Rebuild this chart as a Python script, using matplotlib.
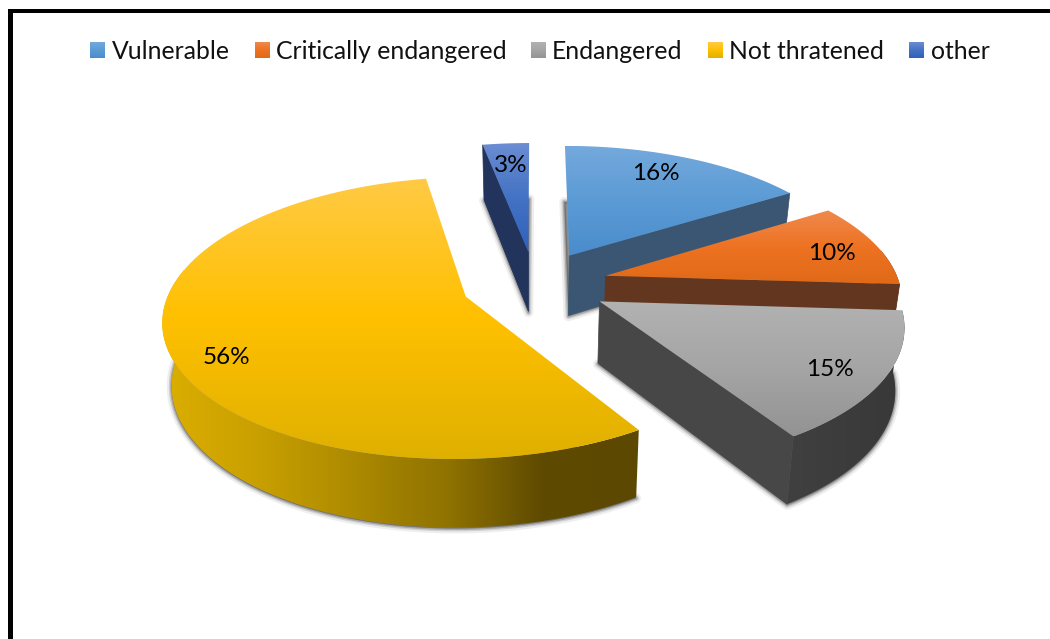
"""Exploded 3D-style pie of threat status, drawn as projected polygons."""
import numpy as np
import matplotlib; matplotlib.use("Agg"); import matplotlib.pyplot as plt
from matplotlib.colors import LinearSegmentedColormap as LSC
from matplotlib.patches import Polygon, Rectangle

plt.rcParams["font.family"] = ["Lato", "DejaVu Sans"]

categories = ["Vulnerable", "Critically endangered", "Endangered", "Not thratened", "other"]
values = [16, 10, 15, 56, 3]

TOP = {"Vulnerable": ["#74a9dc", "#5b9bd5", "#4a8ccc"],
       "Critically endangered": ["#f08a4e", "#ed7222", "#e06a18"],
       "Endangered": ["#b2b2b2", "#a5a5a5", "#939393"],
       "Not thratened": ["#ffca45", "#ffc000", "#dfb000"],
       "other": ["#6b8dd2", "#4472c4", "#2f62bc"]}
WALL = {"Vulnerable": ["#3a5672", "#3a5672"],
        "Critically endangered": ["#63361f", "#63361f"],
        "Endangered": ["#404040", "#383838"],
        "Not thratened": ["#dcae00", "#c9a000", "#ad8a00", "#8f7200", "#5e4a00", "#5c4800"],
        "other": ["#22345c", "#22345c"]}
SIDE = {"Vulnerable": "#3a5672", "Critically endangered": "#63361f", "Endangered": "#474747",
        "Not thratened": "#5c4800", "other": "#22345c"}
DRAW_ORDER = ["other", "Vulnerable", "Critically endangered", "Endangered", "Not thratened"]

LEGEND_SWATCH_X = [90, 255, 531, 708, 909]
LEGEND_TEXT_X = [112, 276, 552, 729, 931]
LABEL_XY = {"Vulnerable": (656, 174), "Critically endangered": (832, 253), "Endangered": (830, 369),
            "Not thratened": (226, 358), "other": (511, 165)}

# projection of the pie plane onto the canvas
CX, CY, RX, RY, PERSP, DEPTH, SHRINK, EXPLODE = 535, 284, 294, 134, 0.15, 61, 0.025, 0.25


def proj(u, v, z=0.0):
    u, v = np.asarray(u, float), np.asarray(v, float)
    s = 1 / (1 + PERSP * v)
    k = 1 - SHRINK * z
    return CX + RX * u * s * k, CY - RY * v * s * k + DEPTH * z * s


def grad_poly(ax, xy, colors, z, horizontal=False):
    """Fill polygon xy with a gradient image clipped to it."""
    xy = np.asarray(xy)
    x0, y0 = xy.min(axis=0)
    x1, y1 = xy.max(axis=0)
    ramp = np.linspace(0, 1, 256)
    ramp = ramp[None, :] if horizontal else ramp[:, None]
    im = ax.imshow(ramp, cmap=LSC.from_list("g", colors), extent=(x0, x1, y1, y0), aspect="auto",
                   zorder=z, interpolation="bilinear", vmin=0, vmax=1)
    poly = Polygon(xy, closed=True, fc="none", ec="none", transform=ax.transData)
    ax.add_patch(poly)
    im.set_clip_path(poly)


fig = plt.figure(figsize=(10.5, 6.39), dpi=100)
ax = fig.add_axes([0, 0, 1, 1])
ax.axis("off")

# slice angles, clockwise from twelve o'clock
edges = np.concatenate([[0], np.cumsum(values)]) / np.sum(values) * 2 * np.pi
angles = dict(zip(categories, zip(edges[:-1], edges[1:])))

z = 2
for name in DRAW_ORDER:
    t0, t1 = angles[name]
    mid = (t0 + t1) / 2
    ou, ov = EXPLODE * np.sin(mid), EXPLODE * np.cos(mid)
    t = np.linspace(t0, t1, 120)
    u, v = ou + np.sin(t), ov + np.cos(t)
    top = np.column_stack([np.r_[proj(ou, ov)[0], proj(u, v)[0]], np.r_[proj(ou, ov)[1], proj(u, v)[1]]])
    bot = np.column_stack([np.r_[proj(ou, ov, 1)[0], proj(u, v, 1)[0]], np.r_[proj(ou, ov, 1)[1], proj(u, v, 1)[1]]])

    # soft shadow round the bottom outline
    for lw, a in ((7, 0.08), (4, 0.16), (2, 0.25)):
        ax.add_patch(Polygon(bot + [0, 1], closed=True, fc="#303030", ec="#303030", lw=lw, alpha=a,
                             joinstyle="round", zorder=z))
    z += 1

    # radial side walls, only the ones facing the viewer
    x0, y0 = proj(ou, ov)
    x3, y3 = proj(ou, ov, 1)
    for px, py, show in ((u[0], v[0], np.sin(t0) < 0), (u[-1], v[-1], np.sin(t1) > 1e-6)):
        if not show:
            continue
        x1, y1 = proj(px, py)
        x2, y2 = proj(px, py, 1)
        ax.add_patch(Polygon([(x0, y0), (x1, y1), (x2, y2), (x3, y3)], closed=True,
                             fc=SIDE[name], ec=SIDE[name], lw=0.5, zorder=z))
    z += 1

    # outer wall, front part of the rim only
    front = np.cos(t) < 0.2
    if front.sum() > 1:
        tx, ty = proj(u[front], v[front])
        bx, by = proj(u[front], v[front], 1)
        wall = np.column_stack([np.r_[tx, bx[::-1]], np.r_[ty, by[::-1]]])
        grad_poly(ax, wall, WALL[name], z, horizontal=True)
    z += 1

    # top face
    grad_poly(ax, top, TOP[name], z)
    z += 1

for name, val in zip(categories, values):
    lx, ly = LABEL_XY[name]
    ax.text(lx, ly, f"{val}%", ha="center", va="center", fontsize=17.5, color="black", zorder=z)

# legend
for name, sx, tx in zip(categories, LEGEND_SWATCH_X, LEGEND_TEXT_X):
    grad_poly(ax, [(sx, 42), (sx + 15, 42), (sx + 15, 58), (sx, 58)], TOP[name], z)
    ax.text(tx, 51.5, name, ha="left", va="center", fontsize=17.8, color="#111111", zorder=z)

# frame: left and top rules only reach the picture edge
ax.add_patch(Rectangle((8, 9), 1042, 3.5, fc="black", ec="none", zorder=z))
ax.add_patch(Rectangle((8, 9), 5, 630, fc="black", ec="none", zorder=z))

ax.set_xlim(0, 1050)
ax.set_ylim(639, 0)
fig.savefig("out.png", dpi=100, facecolor="white")
